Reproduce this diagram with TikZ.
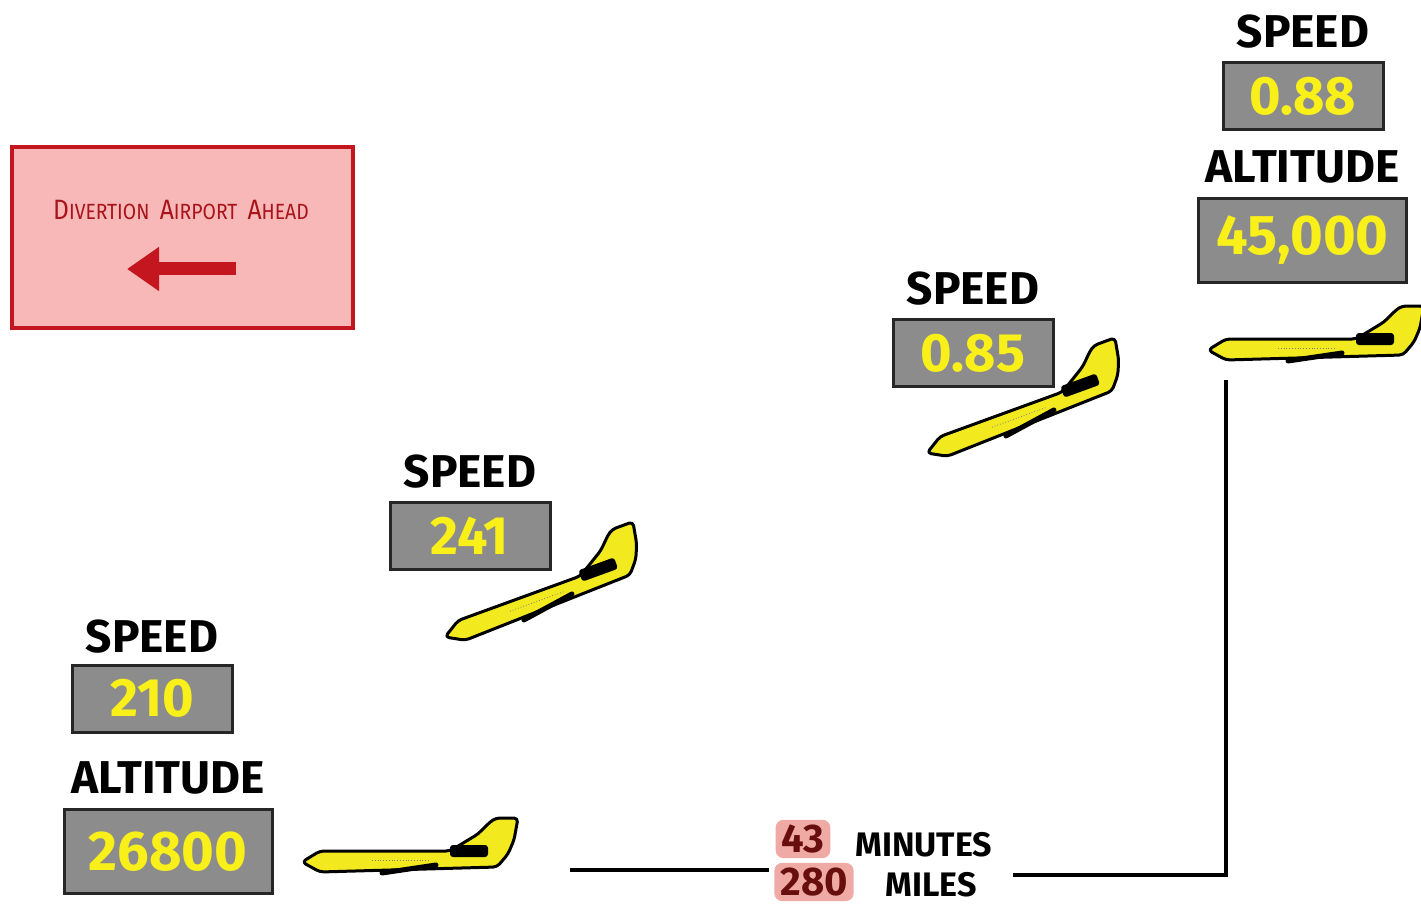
\documentclass[tikz,border=0pt]{standalone}
\usepackage{fontspec}
\setmainfont{Fira Sans}
\usetikzlibrary{positioning,arrows.meta}

\definecolor{boxgray}{RGB}{140,140,140}
\definecolor{gaugeyellow}{RGB}{250,240,25}
\definecolor{planeyellow}{RGB}{242,234,30}
\definecolor{signfill}{RGB}{248,184,184}
\definecolor{signred}{RGB}{196,22,30}
\definecolor{signtext}{RGB}{168,20,26}
\definecolor{tagpink}{RGB}{240,170,165}
\definecolor{tagred}{RGB}{105,14,14}

\tikzset{
  valbox/.style={draw=black!85, line width=1.5pt, fill=boxgray, text=gaugeyellow,
    font=\fontsize{27}{27}\selectfont\bfseries, minimum width=80pt, minimum height=33.5pt, inner sep=0pt},
  altbox/.style={valbox, minimum width=104pt, minimum height=42pt,
    font=\fontsize{28}{28}\selectfont\bfseries},
  caption/.style={font=\fontsize{23}{23}\selectfont\bfseries, inner sep=0pt},
  numtag/.style={fill=tagpink, rounded corners=4pt, text=tagred, inner xsep=3pt, inner ysep=2.5pt,
    font=\fontsize{20}{20}\selectfont\bfseries},
  note/.style={font=\fontsize{17}{17}\selectfont\bfseries, inner sep=0pt},
  route/.style={line width=2pt, black},
  planebody/.style={fill=planeyellow, draw=black, line width=1.5pt, line join=round, rounded corners=2pt},
  plane/.pic={
    \draw[planebody] (0,0) -- (18,-11) -- (148,-11) -- (176,-28) -- (188,-40) -- (194,-44) -- (216,-44)
      -- (212,-22) -- (206,-8) -- (195,5) -- (18,10) -- cycle;
    \fill[black, rounded corners=1.5pt] (148,-17) rectangle (186,-5);  % engine pod
    \draw[black, line width=2.5pt, line cap=round] (80,11) -- (134,3);  % wing
    \draw[gray, densely dotted] (70,-2) -- (128,-2);                    % windows
  }
}

\newcommand{\bigfirst}[1]{{\fontsize{14}{14}\selectfont #1}}

\begin{document}
\begin{tikzpicture}[x=0.5pt, y=-0.5pt]
\useasboundingbox (0,0) rectangle (1421,904);

% diversion sign
\draw[fill=signfill, draw=signred, line width=2pt] (12,147) rectangle (353,328);
\node[text=signtext, font=\fontsize{11}{11}\selectfont, inner sep=0pt] (signtxt) at (181,210)
  {\scalebox{0.88}[1]{\bigfirst{D}IVERTION\ \ \bigfirst{A}IRPORT\ \ \bigfirst{A}HEAD}};
\draw[signred, line width=6.5pt, -{Triangle[length=16pt, width=21pt]}] (236,269) -- (127,269);

% gauges on the ground
\node[valbox] (spdA) at (152,698.5) {210};
\node[caption, above=5pt of spdA] (spdAcap) {SPEED};
\node[altbox] (altA) at (168,851.5) {26800};
\node[caption, above=6.5pt of altA] (altAcap) {ALTITUDE};

% climbing
\node[valbox] (spdB) at (470,536) {241};
\node[caption, above=6pt of spdB] (spdBcap) {SPEED};
\node[valbox] (spdC) at (973,353) {0.85};
\node[caption, above=6pt of spdC] (spdCcap) {SPEED};

% cruise
\node[valbox] (spdD) at (1303,96) {0.88};
\node[caption, above=6pt of spdD] (spdDcap) {SPEED};
\node[altbox] (altD) at (1302.5,240.5) {45,000};
\node[caption, above=6.5pt of altD] (altDcap) {ALTITUDE};

% aircraft
\pic at (302,862) {plane};
\pic[rotate=20] at (445,637) {plane};
\pic[rotate=20] at (927,453) {plane};
\pic at (1208,350) {plane};

% time and distance of the climb
\node[numtag] (mins) at (803,839) {43};
\node[note, anchor=west] (minsword) at (855,845) {MINUTES};
\node[numtag] (miles) at (814,882) {280};
\node[note, anchor=west] (milesword) at (885,885) {MILES};

\coordinate (lowstart) at (570,870);
\coordinate (corner) at (1226,875);
\coordinate (cruisealt) at (1226,380);
\draw[route] (lowstart) -- ([xshift=-3pt]lowstart -| mins.west);
\draw[route] ([xshift=10pt]corner -| minsword.east) -- (corner) -- (cruisealt);
\end{tikzpicture}
\end{document}
